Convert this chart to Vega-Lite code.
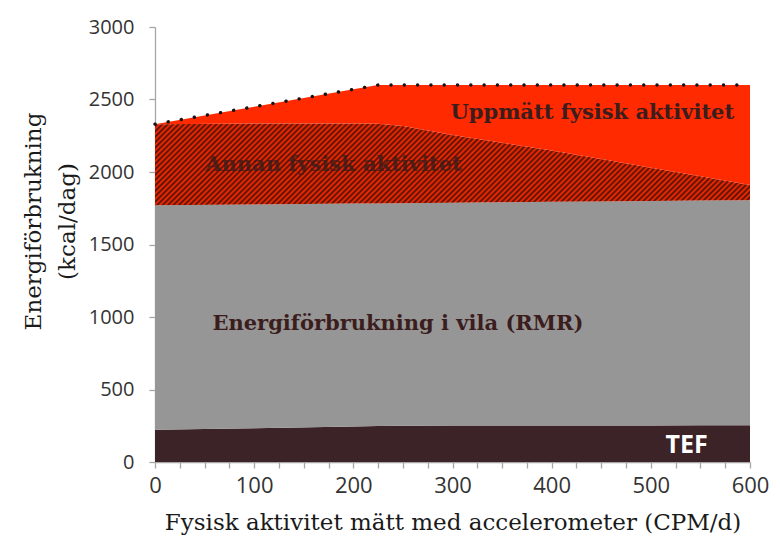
{
  "$schema": "https://vega.github.io/schema/vega-lite/v6.json",
  "width": 595,
  "height": 435,
  "autosize": {"type": "none"},
  "padding": {"left": 155, "top": 27, "right": 30, "bottom": 95},
  "background": "white",
  "config": {
    "view": {"stroke": null},
    "axisY": {
      "tickCount": 6,
      "format": "d",
      "grid": false,
      "domainColor": "#a6a6a6",
      "domainWidth": 1.3,
      "tickColor": "#a6a6a6",
      "tickWidth": 1.3,
      "tickSize": 6,
      "labelPadding": 15,
      "labelFont": "Open Sans",
      "labelFontSize": 20,
      "labelColor": "#333333",
      "titleFont": "DejaVu Serif",
      "titleFontSize": 23,
      "titleFontWeight": "normal",
      "titleColor": "#1a1a1a",
      "titleAngle": -90,
      "titleX": -122,
      "titleY": 194,
      "titleAlign": "center",
      "titleBaseline": "middle",
      "titleLineHeight": 34
    }
  },
  "datasets": {
    "bands": [
      {"x": 0, "tef": 222, "rmr": 1770, "annan": 2330, "total": 2330},
      {"x": 100, "tef": 233, "rmr": 1776, "annan": 2335, "total": 2450},
      {"x": 200, "tef": 245, "rmr": 1782, "annan": 2335, "total": 2570},
      {"x": 225, "tef": 248, "rmr": 1783, "annan": 2332, "total": 2600},
      {"x": 250, "tef": 250, "rmr": 1785, "annan": 2318, "total": 2600},
      {"x": 300, "tef": 251, "rmr": 1788, "annan": 2255, "total": 2600},
      {"x": 350, "tef": 251, "rmr": 1791, "annan": 2202, "total": 2600},
      {"x": 400, "tef": 252, "rmr": 1794, "annan": 2148, "total": 2600},
      {"x": 450, "tef": 252, "rmr": 1797, "annan": 2090, "total": 2600},
      {"x": 500, "tef": 252, "rmr": 1800, "annan": 2030, "total": 2600},
      {"x": 550, "tef": 253, "rmr": 1803, "annan": 1970, "total": 2600},
      {"x": 600, "tef": 253, "rmr": 1806, "annan": 1910, "total": 2600}
    ],
    "serifLabels": [
      {"x": 441, "y": 2407, "label": "Uppmätt fysisk aktivitet"},
      {"x": 245, "y": 952, "label": "Energiförbrukning i vila (RMR)"}
    ],
    "annanLabel": [
      {"x": 180, "y": 2048, "label": "Annan fysisk aktivitet"}
    ],
    "tefLabel": [
      {"x": 536, "y": 115, "label": "TEF"}
    ]
  },
  "encoding": {
    "x": {
      "field": "x",
      "type": "quantitative",
      "scale": {"domain": [0, 600], "nice": false},
      "title": "Fysisk aktivitet mätt med accelerometer (CPM/d)",
      "axis": {
        "values": [0, 25, 50, 75, 100, 125, 150, 175, 200, 225, 250, 275, 300, 325, 350, 375, 400, 425, 450, 475, 500, 525, 550, 575, 600],
        "labelExpr": "datum.value % 100 === 0 ? datum.label : ''",
        "labelOverlap": false,
        "labelFlush": false,
        "grid": false,
        "domainColor": "#a6a6a6",
        "domainWidth": 1.3,
        "tickColor": "#a6a6a6",
        "tickWidth": 1.3,
        "tickSize": 6,
        "labelPadding": 7,
        "labelFont": "Open Sans",
        "labelFontSize": 22,
        "labelColor": "#333333",
        "titleFont": "DejaVu Serif",
        "titleFontSize": 23,
        "titleFontWeight": "normal",
        "titleColor": "#1a1a1a",
        "titleY": 49,
        "titleBaseline": "top"
      }
    }
  },
  "layer": [
    {
      "data": {"name": "bands"},
      "mark": {"type": "area", "color": "#3b2328", "interpolate": "linear"},
      "encoding": {
        "y": {
          "field": "tef",
          "type": "quantitative",
          "scale": {"domain": [0, 3000], "nice": false},
          "title": ["Energiförbrukning", "(kcal/dag)"]
        }
      }
    },
    {
      "data": {"name": "bands"},
      "mark": {"type": "area", "color": "#969696", "interpolate": "linear"},
      "encoding": {
        "y": {"field": "rmr", "type": "quantitative", "title": ["Energiförbrukning", "(kcal/dag)"]},
        "y2": {"field": "tef"}
      }
    },
    {
      "data": {"name": "bands"},
      "mark": {
        "type": "area",
        "interpolate": "linear",
        "fill": {
          "gradient": "linear",
          "x1": 0, "y1": 0, "x2": 1.1166, "y2": 0.1539,
          "stops": [
            {"offset": 0, "color": "#ff2a00"}, {"offset": 0.004, "color": "#4a1208"}, {"offset": 0.008, "color": "#ff2a00"}, {"offset": 0.012, "color": "#4a1208"}, {"offset": 0.016, "color": "#ff2a00"}, {"offset": 0.02, "color": "#4a1208"}, {"offset": 0.024, "color": "#ff2a00"}, {"offset": 0.028, "color": "#4a1208"}, {"offset": 0.032, "color": "#ff2a00"}, {"offset": 0.036, "color": "#4a1208"},
            {"offset": 0.04, "color": "#ff2a00"}, {"offset": 0.044, "color": "#4a1208"}, {"offset": 0.048, "color": "#ff2a00"}, {"offset": 0.052, "color": "#4a1208"}, {"offset": 0.056, "color": "#ff2a00"}, {"offset": 0.06, "color": "#4a1208"}, {"offset": 0.064, "color": "#ff2a00"}, {"offset": 0.068, "color": "#4a1208"}, {"offset": 0.072, "color": "#ff2a00"}, {"offset": 0.076, "color": "#4a1208"},
            {"offset": 0.08, "color": "#ff2a00"}, {"offset": 0.084, "color": "#4a1208"}, {"offset": 0.088, "color": "#ff2a00"}, {"offset": 0.092, "color": "#4a1208"}, {"offset": 0.096, "color": "#ff2a00"}, {"offset": 0.1, "color": "#4a1208"}, {"offset": 0.104, "color": "#ff2a00"}, {"offset": 0.108, "color": "#4a1208"}, {"offset": 0.112, "color": "#ff2a00"}, {"offset": 0.116, "color": "#4a1208"},
            {"offset": 0.12, "color": "#ff2a00"}, {"offset": 0.124, "color": "#4a1208"}, {"offset": 0.128, "color": "#ff2a00"}, {"offset": 0.132, "color": "#4a1208"}, {"offset": 0.136, "color": "#ff2a00"}, {"offset": 0.14, "color": "#4a1208"}, {"offset": 0.144, "color": "#ff2a00"}, {"offset": 0.148, "color": "#4a1208"}, {"offset": 0.152, "color": "#ff2a00"}, {"offset": 0.156, "color": "#4a1208"},
            {"offset": 0.16, "color": "#ff2a00"}, {"offset": 0.164, "color": "#4a1208"}, {"offset": 0.168, "color": "#ff2a00"}, {"offset": 0.172, "color": "#4a1208"}, {"offset": 0.176, "color": "#ff2a00"}, {"offset": 0.18, "color": "#4a1208"}, {"offset": 0.184, "color": "#ff2a00"}, {"offset": 0.188, "color": "#4a1208"}, {"offset": 0.192, "color": "#ff2a00"}, {"offset": 0.196, "color": "#4a1208"},
            {"offset": 0.2, "color": "#ff2a00"}, {"offset": 0.204, "color": "#4a1208"}, {"offset": 0.208, "color": "#ff2a00"}, {"offset": 0.212, "color": "#4a1208"}, {"offset": 0.216, "color": "#ff2a00"}, {"offset": 0.22, "color": "#4a1208"}, {"offset": 0.224, "color": "#ff2a00"}, {"offset": 0.228, "color": "#4a1208"}, {"offset": 0.232, "color": "#ff2a00"}, {"offset": 0.236, "color": "#4a1208"},
            {"offset": 0.24, "color": "#ff2a00"}, {"offset": 0.244, "color": "#4a1208"}, {"offset": 0.248, "color": "#ff2a00"}, {"offset": 0.252, "color": "#4a1208"}, {"offset": 0.256, "color": "#ff2a00"}, {"offset": 0.26, "color": "#4a1208"}, {"offset": 0.264, "color": "#ff2a00"}, {"offset": 0.268, "color": "#4a1208"}, {"offset": 0.272, "color": "#ff2a00"}, {"offset": 0.276, "color": "#4a1208"},
            {"offset": 0.28, "color": "#ff2a00"}, {"offset": 0.284, "color": "#4a1208"}, {"offset": 0.288, "color": "#ff2a00"}, {"offset": 0.292, "color": "#4a1208"}, {"offset": 0.296, "color": "#ff2a00"}, {"offset": 0.3, "color": "#4a1208"}, {"offset": 0.304, "color": "#ff2a00"}, {"offset": 0.308, "color": "#4a1208"}, {"offset": 0.312, "color": "#ff2a00"}, {"offset": 0.316, "color": "#4a1208"},
            {"offset": 0.32, "color": "#ff2a00"}, {"offset": 0.324, "color": "#4a1208"}, {"offset": 0.328, "color": "#ff2a00"}, {"offset": 0.332, "color": "#4a1208"}, {"offset": 0.336, "color": "#ff2a00"}, {"offset": 0.34, "color": "#4a1208"}, {"offset": 0.344, "color": "#ff2a00"}, {"offset": 0.348, "color": "#4a1208"}, {"offset": 0.352, "color": "#ff2a00"}, {"offset": 0.356, "color": "#4a1208"},
            {"offset": 0.36, "color": "#ff2a00"}, {"offset": 0.364, "color": "#4a1208"}, {"offset": 0.368, "color": "#ff2a00"}, {"offset": 0.372, "color": "#4a1208"}, {"offset": 0.376, "color": "#ff2a00"}, {"offset": 0.38, "color": "#4a1208"}, {"offset": 0.384, "color": "#ff2a00"}, {"offset": 0.388, "color": "#4a1208"}, {"offset": 0.392, "color": "#ff2a00"}, {"offset": 0.396, "color": "#4a1208"},
            {"offset": 0.4, "color": "#ff2a00"}, {"offset": 0.404, "color": "#4a1208"}, {"offset": 0.408, "color": "#ff2a00"}, {"offset": 0.412, "color": "#4a1208"}, {"offset": 0.416, "color": "#ff2a00"}, {"offset": 0.42, "color": "#4a1208"}, {"offset": 0.424, "color": "#ff2a00"}, {"offset": 0.428, "color": "#4a1208"}, {"offset": 0.432, "color": "#ff2a00"}, {"offset": 0.436, "color": "#4a1208"},
            {"offset": 0.44, "color": "#ff2a00"}, {"offset": 0.444, "color": "#4a1208"}, {"offset": 0.448, "color": "#ff2a00"}, {"offset": 0.452, "color": "#4a1208"}, {"offset": 0.456, "color": "#ff2a00"}, {"offset": 0.46, "color": "#4a1208"}, {"offset": 0.464, "color": "#ff2a00"}, {"offset": 0.468, "color": "#4a1208"}, {"offset": 0.472, "color": "#ff2a00"}, {"offset": 0.476, "color": "#4a1208"},
            {"offset": 0.48, "color": "#ff2a00"}, {"offset": 0.484, "color": "#4a1208"}, {"offset": 0.488, "color": "#ff2a00"}, {"offset": 0.492, "color": "#4a1208"}, {"offset": 0.496, "color": "#ff2a00"}, {"offset": 0.5, "color": "#4a1208"}, {"offset": 0.504, "color": "#ff2a00"}, {"offset": 0.508, "color": "#4a1208"}, {"offset": 0.512, "color": "#ff2a00"}, {"offset": 0.516, "color": "#4a1208"},
            {"offset": 0.52, "color": "#ff2a00"}, {"offset": 0.524, "color": "#4a1208"}, {"offset": 0.528, "color": "#ff2a00"}, {"offset": 0.532, "color": "#4a1208"}, {"offset": 0.536, "color": "#ff2a00"}, {"offset": 0.54, "color": "#4a1208"}, {"offset": 0.544, "color": "#ff2a00"}, {"offset": 0.548, "color": "#4a1208"}, {"offset": 0.552, "color": "#ff2a00"}, {"offset": 0.556, "color": "#4a1208"},
            {"offset": 0.56, "color": "#ff2a00"}, {"offset": 0.564, "color": "#4a1208"}, {"offset": 0.568, "color": "#ff2a00"}, {"offset": 0.572, "color": "#4a1208"}, {"offset": 0.576, "color": "#ff2a00"}, {"offset": 0.58, "color": "#4a1208"}, {"offset": 0.584, "color": "#ff2a00"}, {"offset": 0.588, "color": "#4a1208"}, {"offset": 0.592, "color": "#ff2a00"}, {"offset": 0.596, "color": "#4a1208"},
            {"offset": 0.6, "color": "#ff2a00"}, {"offset": 0.604, "color": "#4a1208"}, {"offset": 0.608, "color": "#ff2a00"}, {"offset": 0.612, "color": "#4a1208"}, {"offset": 0.616, "color": "#ff2a00"}, {"offset": 0.62, "color": "#4a1208"}, {"offset": 0.624, "color": "#ff2a00"}, {"offset": 0.628, "color": "#4a1208"}, {"offset": 0.632, "color": "#ff2a00"}, {"offset": 0.636, "color": "#4a1208"},
            {"offset": 0.64, "color": "#ff2a00"}, {"offset": 0.644, "color": "#4a1208"}, {"offset": 0.648, "color": "#ff2a00"}, {"offset": 0.652, "color": "#4a1208"}, {"offset": 0.656, "color": "#ff2a00"}, {"offset": 0.66, "color": "#4a1208"}, {"offset": 0.664, "color": "#ff2a00"}, {"offset": 0.668, "color": "#4a1208"}, {"offset": 0.672, "color": "#ff2a00"}, {"offset": 0.676, "color": "#4a1208"},
            {"offset": 0.68, "color": "#ff2a00"}, {"offset": 0.684, "color": "#4a1208"}, {"offset": 0.688, "color": "#ff2a00"}, {"offset": 0.692, "color": "#4a1208"}, {"offset": 0.696, "color": "#ff2a00"}, {"offset": 0.7, "color": "#4a1208"}, {"offset": 0.704, "color": "#ff2a00"}, {"offset": 0.708, "color": "#4a1208"}, {"offset": 0.712, "color": "#ff2a00"}, {"offset": 0.716, "color": "#4a1208"},
            {"offset": 0.72, "color": "#ff2a00"}, {"offset": 0.724, "color": "#4a1208"}, {"offset": 0.728, "color": "#ff2a00"}, {"offset": 0.732, "color": "#4a1208"}, {"offset": 0.736, "color": "#ff2a00"}, {"offset": 0.74, "color": "#4a1208"}, {"offset": 0.744, "color": "#ff2a00"}, {"offset": 0.748, "color": "#4a1208"}, {"offset": 0.752, "color": "#ff2a00"}, {"offset": 0.756, "color": "#4a1208"},
            {"offset": 0.76, "color": "#ff2a00"}, {"offset": 0.764, "color": "#4a1208"}, {"offset": 0.768, "color": "#ff2a00"}, {"offset": 0.772, "color": "#4a1208"}, {"offset": 0.776, "color": "#ff2a00"}, {"offset": 0.78, "color": "#4a1208"}, {"offset": 0.784, "color": "#ff2a00"}, {"offset": 0.788, "color": "#4a1208"}, {"offset": 0.792, "color": "#ff2a00"}, {"offset": 0.796, "color": "#4a1208"},
            {"offset": 0.8, "color": "#ff2a00"}, {"offset": 0.804, "color": "#4a1208"}, {"offset": 0.808, "color": "#ff2a00"}, {"offset": 0.812, "color": "#4a1208"}, {"offset": 0.816, "color": "#ff2a00"}, {"offset": 0.82, "color": "#4a1208"}, {"offset": 0.824, "color": "#ff2a00"}, {"offset": 0.828, "color": "#4a1208"}, {"offset": 0.832, "color": "#ff2a00"}, {"offset": 0.836, "color": "#4a1208"},
            {"offset": 0.84, "color": "#ff2a00"}, {"offset": 0.844, "color": "#4a1208"}, {"offset": 0.848, "color": "#ff2a00"}, {"offset": 0.852, "color": "#4a1208"}, {"offset": 0.856, "color": "#ff2a00"}, {"offset": 0.86, "color": "#4a1208"}, {"offset": 0.864, "color": "#ff2a00"}, {"offset": 0.868, "color": "#4a1208"}, {"offset": 0.872, "color": "#ff2a00"}, {"offset": 0.876, "color": "#4a1208"},
            {"offset": 0.88, "color": "#ff2a00"}, {"offset": 0.884, "color": "#4a1208"}, {"offset": 0.888, "color": "#ff2a00"}, {"offset": 0.892, "color": "#4a1208"}, {"offset": 0.896, "color": "#ff2a00"}, {"offset": 0.9, "color": "#4a1208"}, {"offset": 0.904, "color": "#ff2a00"}, {"offset": 0.908, "color": "#4a1208"}, {"offset": 0.912, "color": "#ff2a00"}, {"offset": 0.916, "color": "#4a1208"},
            {"offset": 0.92, "color": "#ff2a00"}, {"offset": 0.924, "color": "#4a1208"}, {"offset": 0.928, "color": "#ff2a00"}, {"offset": 0.932, "color": "#4a1208"}, {"offset": 0.936, "color": "#ff2a00"}, {"offset": 0.94, "color": "#4a1208"}, {"offset": 0.944, "color": "#ff2a00"}, {"offset": 0.948, "color": "#4a1208"}, {"offset": 0.952, "color": "#ff2a00"}, {"offset": 0.956, "color": "#4a1208"},
            {"offset": 0.96, "color": "#ff2a00"}, {"offset": 0.964, "color": "#4a1208"}, {"offset": 0.968, "color": "#ff2a00"}, {"offset": 0.972, "color": "#4a1208"}, {"offset": 0.976, "color": "#ff2a00"}, {"offset": 0.98, "color": "#4a1208"}, {"offset": 0.984, "color": "#ff2a00"}, {"offset": 0.988, "color": "#4a1208"}, {"offset": 0.992, "color": "#ff2a00"}, {"offset": 0.996, "color": "#4a1208"},
            {"offset": 1, "color": "#ff2a00"}
          ]
        }
      },
      "encoding": {
        "y": {"field": "annan", "type": "quantitative", "title": ["Energiförbrukning", "(kcal/dag)"]},
        "y2": {"field": "rmr"}
      }
    },
    {
      "data": {"name": "bands"},
      "mark": {"type": "area", "color": "#ff2a00", "interpolate": "linear"},
      "encoding": {
        "y": {"field": "total", "type": "quantitative", "title": ["Energiförbrukning", "(kcal/dag)"]},
        "y2": {"field": "annan"}
      }
    },
    {
      "data": {"name": "bands"},
      "mark": {"type": "line", "color": "#141414", "strokeWidth": 3.4, "strokeCap": "round", "strokeDash": [0.1, 13.2], "interpolate": "linear"},
      "encoding": {
        "y": {"field": "total", "type": "quantitative", "title": ["Energiförbrukning", "(kcal/dag)"]}
      }
    },
    {
      "data": {"name": "serifLabels"},
      "mark": {"type": "text", "font": "DejaVu Serif", "fontSize": 21, "fontWeight": "bold", "color": "#3b1d1d", "align": "center", "baseline": "middle"},
      "encoding": {
        "y": {"field": "y", "type": "quantitative", "title": ["Energiförbrukning", "(kcal/dag)"]},
        "text": {"field": "label"}
      }
    },
    {
      "data": {"name": "annanLabel"},
      "mark": {"type": "text", "font": "DejaVu Serif", "fontSize": 21, "fontWeight": "bold", "color": "#3b1d1d", "opacity": 0.8, "align": "center", "baseline": "middle"},
      "encoding": {
        "y": {"field": "y", "type": "quantitative", "title": ["Energiförbrukning", "(kcal/dag)"]},
        "text": {"field": "label"}
      }
    },
    {
      "data": {"name": "tefLabel"},
      "mark": {"type": "text", "font": "Open Sans", "fontSize": 25, "fontWeight": "bold", "color": "#ffffff", "align": "center", "baseline": "middle"},
      "encoding": {
        "y": {"field": "y", "type": "quantitative", "title": ["Energiförbrukning", "(kcal/dag)"]},
        "text": {"field": "label"}
      }
    }
  ]
}
